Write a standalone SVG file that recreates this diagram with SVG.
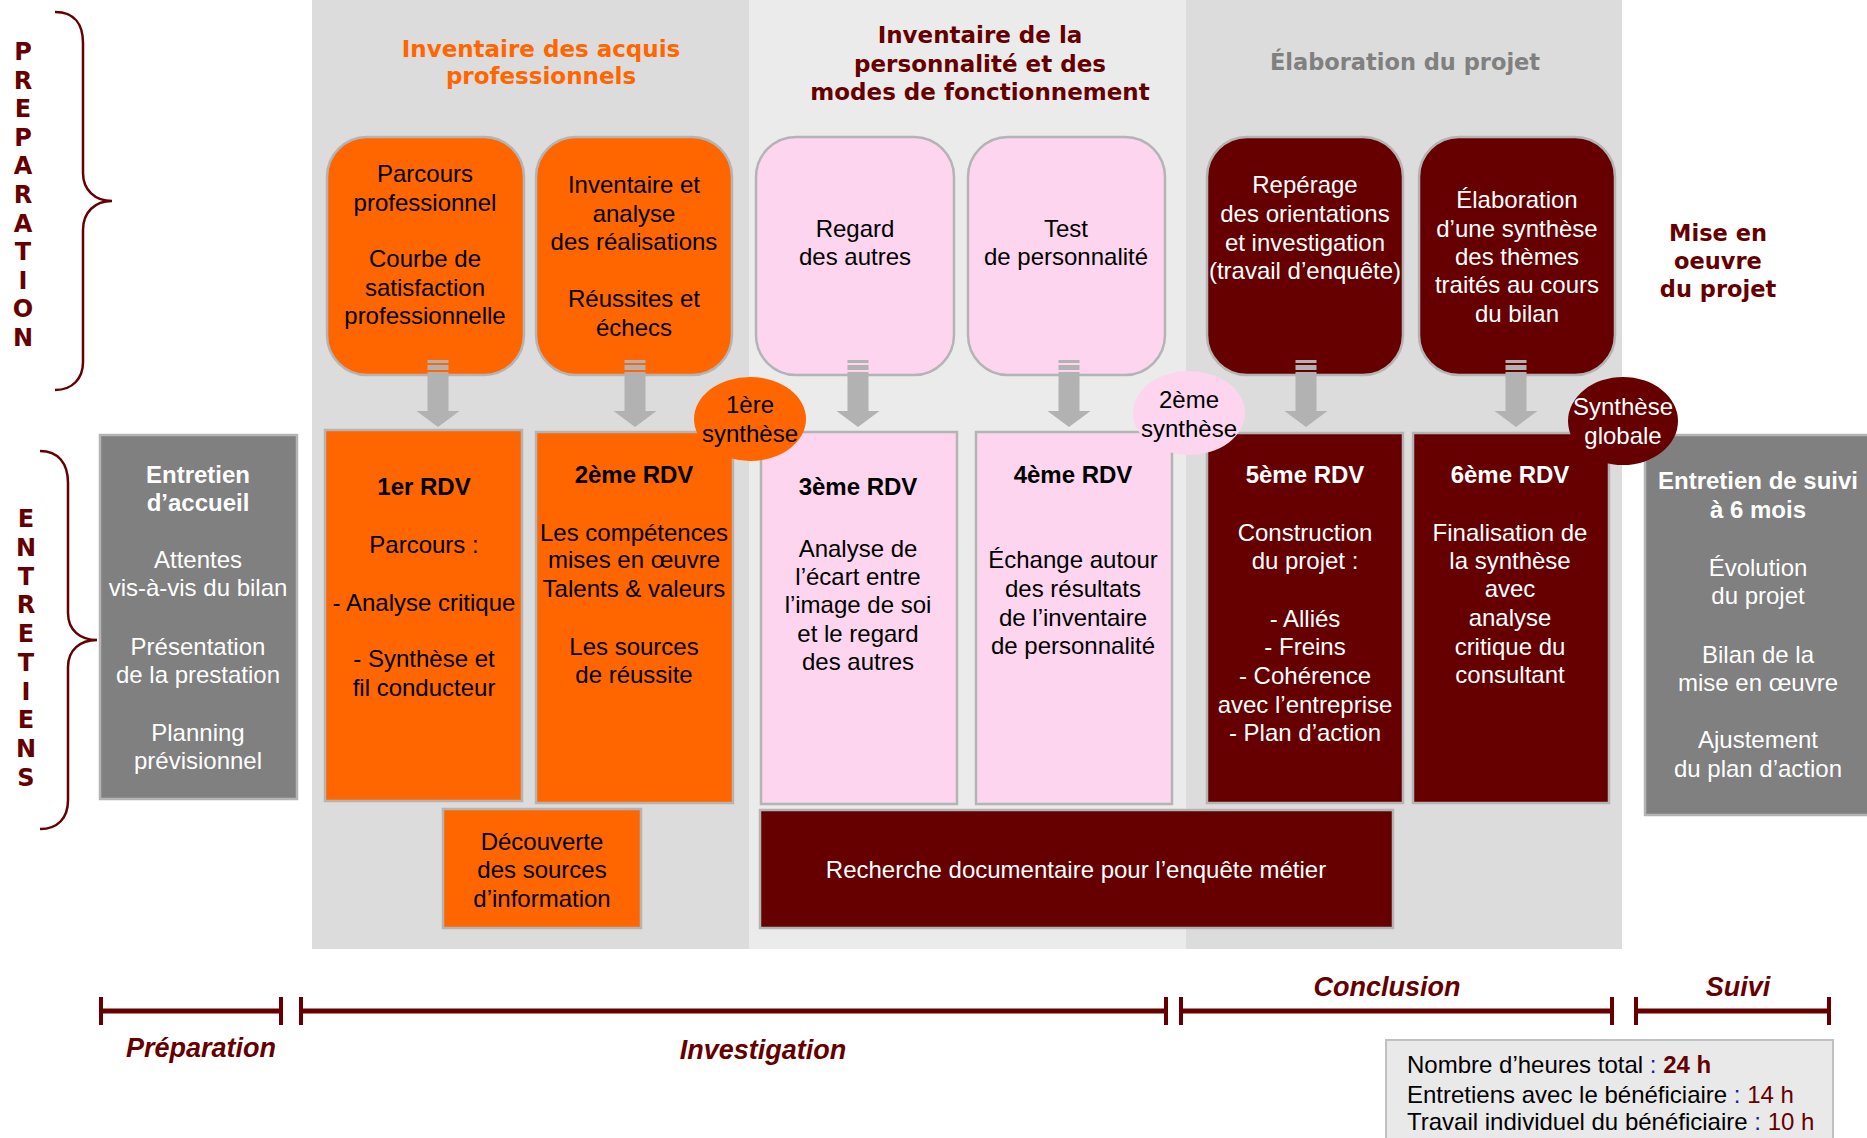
<svg xmlns="http://www.w3.org/2000/svg" width="1867" height="1138" viewBox="0 0 1867 1138">
<style>
.t{font-family:"Liberation Sans",Arial,sans-serif;font-size:24px;text-anchor:middle;fill:#000}
.b{font-weight:bold}
.w{fill:#fff}
.h{font-family:"DejaVu Sans",sans-serif;font-weight:bold;font-size:23px;text-anchor:middle}
.lt{font-size:24px}
.dr{fill:#660000}
.or{fill:#ff6600}
.box{stroke:#b4b4b4;stroke-width:2.5}
.tl{font-family:"Liberation Sans",Arial,sans-serif;font-weight:bold;font-style:italic;font-size:27px;text-anchor:middle;fill:#660000}
.brace{fill:none;stroke:#660000;stroke-width:2.5}
.arr{fill:#b2b2b2}
</style>
<defs>
<g id="arrow">
<rect class="arr" x="-10.5" y="360" width="21" height="3"/>
<rect class="arr" x="-10.5" y="365" width="21" height="5"/>
<path class="arr" d="M-10.5,372 H10.5 V411 H21.5 L0,427 L-21.5,411 H-10.5 Z"/>
</g>
</defs>
<rect width="1867" height="1138" fill="#fff"/>
<g id="bands">
<rect x="312" y="0" width="437" height="949" fill="#dcdcdc"/>
<rect x="749" y="0" width="437" height="949" fill="#ebebeb"/>
<rect x="1186" y="0" width="436" height="949" fill="#dcdcdc"/>
</g>
<g id="titles">
<text class="h" x="541" y="57" fill="#ff6600">Inventaire des acquis</text>
<text class="h" x="541" y="84" fill="#ff6600">professionnels</text>
<text class="h" x="980" y="43" fill="#660000">Inventaire de la</text>
<text class="h" x="980" y="72" fill="#660000">personnalité et des</text>
<text class="h" x="980" y="100" fill="#660000">modes de fonctionnement</text>
<text class="h" x="1405" y="70" fill="#808080" style="font-size:22.5px">Élaboration du projet</text>
<g id="mise-en-oeuvre">
<text class="h dr" x="1718" y="241" style="font-size:22.5px">Mise en</text>
<text class="h dr" x="1718" y="269" style="font-size:22.5px">oeuvre</text>
<text class="h dr" x="1718" y="297" style="font-size:22.5px">du projet</text>
</g>
</g>
<g id="preparation-label">
<path class="brace" d="M55,12 C75,12 83,25 83,43 L83,173 C83,190 95,201 112,201 C95,201 83,212 83,230 L83,362 C83,378 73,390 55,390"/>
<text class="h dr lt" x="23" y="60">P</text>
<text class="h dr lt" x="23" y="88.6">R</text>
<text class="h dr lt" x="23" y="117.2">E</text>
<text class="h dr lt" x="23" y="145.8">P</text>
<text class="h dr lt" x="23" y="174.4">A</text>
<text class="h dr lt" x="23" y="203">R</text>
<text class="h dr lt" x="23" y="231.6">A</text>
<text class="h dr lt" x="23" y="260.2">T</text>
<text class="h dr lt" x="23" y="288.8">I</text>
<text class="h dr lt" x="23" y="317.4">O</text>
<text class="h dr lt" x="23" y="346">N</text>
</g>
<g id="entretiens-label">
<path class="brace" d="M40,451 C58,451 68,463 68,483 L68,613 C68,630 80,640 97,640 C80,640 68,650 68,667 L68,800 C68,818 58,829 40,829"/>
<text class="h dr lt" x="26" y="527">E</text>
<text class="h dr lt" x="26" y="556">N</text>
<text class="h dr lt" x="26" y="585">T</text>
<text class="h dr lt" x="26" y="613">R</text>
<text class="h dr lt" x="26" y="642">E</text>
<text class="h dr lt" x="26" y="671">T</text>
<text class="h dr lt" x="26" y="700">I</text>
<text class="h dr lt" x="26" y="728">E</text>
<text class="h dr lt" x="26" y="757">N</text>
<text class="h dr lt" x="26" y="786">S</text>
</g>
<g id="entretien-accueil">
<rect class="box" x="100" y="435" width="197" height="364" fill="#808080"/>
<text class="t b w" x="198" y="483">Entretien</text>
<text class="t b w" x="198" y="511">d’accueil</text>
<text class="t w" x="198" y="568">Attentes</text>
<text class="t w" x="198" y="596">vis-à-vis du bilan</text>
<text class="t w" x="198" y="655">Présentation</text>
<text class="t w" x="198" y="683">de la prestation</text>
<text class="t w" x="198" y="741">Planning</text>
<text class="t w" x="198" y="769">prévisionnel</text>
</g>
<g id="parcours-pro">
<rect class="box" x="327" y="137" width="197" height="238" rx="40" fill="#ff6600"/>
<text class="t" x="425" y="182">Parcours</text>
<text class="t" x="425" y="211">professionnel</text>
<text class="t" x="425" y="267">Courbe de</text>
<text class="t" x="425" y="296">satisfaction</text>
<text class="t" x="425" y="324">professionnelle</text>
</g>
<g id="inventaire-realisations">
<rect class="box" x="536" y="137" width="196" height="238" rx="40" fill="#ff6600"/>
<text class="t" x="634" y="193">Inventaire et</text>
<text class="t" x="634" y="222">analyse</text>
<text class="t" x="634" y="250">des réalisations</text>
<text class="t" x="634" y="307">Réussites et</text>
<text class="t" x="634" y="336">échecs</text>
</g>
<g id="regard-autres">
<rect class="box" x="756" y="137" width="198" height="238" rx="40" fill="#fdd5ee"/>
<text class="t" x="855" y="237">Regard</text>
<text class="t" x="855" y="265">des autres</text>
</g>
<g id="test-personnalite">
<rect class="box" x="968" y="137" width="197" height="238" rx="40" fill="#fdd5ee"/>
<text class="t" x="1066" y="237">Test</text>
<text class="t" x="1066" y="265">de personnalité</text>
</g>
<g id="reperage">
<rect class="box" x="1207" y="137" width="196" height="238" rx="40" fill="#660000"/>
<text class="t w" x="1305" y="193">Repérage</text>
<text class="t w" x="1305" y="222">des orientations</text>
<text class="t w" x="1305" y="251">et investigation</text>
<text class="t w" x="1305" y="279">(travail d’enquête)</text>
</g>
<g id="elaboration-synthese">
<rect class="box" x="1419" y="137" width="196" height="238" rx="40" fill="#660000"/>
<text class="t w" x="1517" y="208">Élaboration</text>
<text class="t w" x="1517" y="237">d’une synthèse</text>
<text class="t w" x="1517" y="265">des thèmes</text>
<text class="t w" x="1517" y="293">traités au cours</text>
<text class="t w" x="1517" y="322">du bilan</text>
</g>
<g id="connectors">
<use href="#arrow" transform="translate(438,0)"/>
<use href="#arrow" transform="translate(635,0)"/>
<use href="#arrow" transform="translate(858,0)"/>
<use href="#arrow" transform="translate(1069,0)"/>
<use href="#arrow" transform="translate(1306,0)"/>
<use href="#arrow" transform="translate(1516,0)"/>
</g>
<g id="rdv1">
<rect class="box" x="325" y="430" width="197" height="371" fill="#ff6600"/>
<text class="t b" x="424" y="495">1er RDV</text>
<text class="t" x="424" y="553">Parcours :</text>
<text class="t" x="424" y="611">- Analyse critique</text>
<text class="t" x="424" y="667">- Synthèse et</text>
<text class="t" x="424" y="696">fil conducteur</text>
</g>
<g id="rdv2">
<rect class="box" x="536" y="432" width="197" height="371" fill="#ff6600"/>
<text class="t b" x="634" y="483">2ème RDV</text>
<text class="t" x="634" y="541">Les compétences</text>
<text class="t" x="634" y="568">mises en œuvre</text>
<text class="t" x="634" y="597">Talents &amp; valeurs</text>
<text class="t" x="634" y="655">Les sources</text>
<text class="t" x="634" y="683">de réussite</text>
</g>
<g id="decouverte">
<rect class="box" x="443" y="809" width="198" height="119" fill="#ff6600"/>
<text class="t" x="542" y="850">Découverte</text>
<text class="t" x="542" y="878">des sources</text>
<text class="t" x="542" y="907">d’information</text>
</g>
<g id="rdv3">
<rect class="box" x="761" y="432" width="196" height="372" fill="#fdd5ee"/>
<text class="t b" x="858" y="495">3ème RDV</text>
<text class="t" x="858" y="557">Analyse de</text>
<text class="t" x="858" y="585">l’écart entre</text>
<text class="t" x="858" y="613">l’image de soi</text>
<text class="t" x="858" y="642">et le regard</text>
<text class="t" x="858" y="670">des autres</text>
</g>
<g id="rdv4">
<rect class="box" x="976" y="432" width="196" height="372" fill="#fdd5ee"/>
<text class="t b" x="1073" y="483">4ème RDV</text>
<text class="t" x="1073" y="568">Échange autour</text>
<text class="t" x="1073" y="597">des résultats</text>
<text class="t" x="1073" y="626">de l’inventaire</text>
<text class="t" x="1073" y="654">de personnalité</text>
</g>
<g id="recherche">
<rect class="box" x="760" y="810" width="633" height="118" fill="#660000"/>
<text class="t w" x="1076" y="878">Recherche documentaire pour l’enquête métier</text>
</g>
<g id="rdv5">
<rect class="box" x="1207" y="433" width="196" height="370" fill="#660000"/>
<text class="t b w" x="1305" y="483">5ème RDV</text>
<text class="t w" x="1305" y="541">Construction</text>
<text class="t w" x="1305" y="569">du projet :</text>
<text class="t w" x="1305" y="627">- Alliés</text>
<text class="t w" x="1305" y="655">- Freins</text>
<text class="t w" x="1305" y="684">- Cohérence</text>
<text class="t w" x="1305" y="713">avec l’entreprise</text>
<text class="t w" x="1305" y="741">- Plan d’action</text>
</g>
<g id="rdv6">
<rect class="box" x="1413" y="433" width="196" height="370" fill="#660000"/>
<text class="t b w" x="1510" y="483">6ème RDV</text>
<text class="t w" x="1510" y="541">Finalisation de</text>
<text class="t w" x="1510" y="569">la synthèse</text>
<text class="t w" x="1510" y="597">avec</text>
<text class="t w" x="1510" y="626">analyse</text>
<text class="t w" x="1510" y="655">critique du</text>
<text class="t w" x="1510" y="683">consultant</text>
</g>
<g id="entretien-suivi">
<rect class="box" x="1645" y="435" width="240" height="380" fill="#808080"/>
<text class="t b w" x="1758" y="489">Entretien de suivi</text>
<text class="t b w" x="1758" y="518">à 6 mois</text>
<text class="t w" x="1758" y="576">Évolution</text>
<text class="t w" x="1758" y="604">du projet</text>
<text class="t w" x="1758" y="663">Bilan de la</text>
<text class="t w" x="1758" y="691">mise en œuvre</text>
<text class="t w" x="1758" y="748">Ajustement</text>
<text class="t w" x="1758" y="777">du plan d’action</text>
</g>
<g id="synthese1">
<ellipse cx="750" cy="419" rx="56" ry="42" fill="#ff6600"/>
<text class="t" x="750" y="413">1ère</text>
<text class="t" x="750" y="442">synthèse</text>
</g>
<g id="synthese2">
<ellipse cx="1189" cy="413" rx="56" ry="42" fill="#fdd5ee"/>
<text class="t" x="1189" y="408">2ème</text>
<text class="t" x="1189" y="437">synthèse</text>
</g>
<g id="synthese-globale">
<ellipse cx="1623" cy="421" rx="55" ry="44" fill="#660000"/>
<text class="t w" x="1623" y="415">Synthèse</text>
<text class="t w" x="1623" y="444">globale</text>
</g>
<g id="timeline" fill="#660000">
<rect x="100" y="1008.5" width="182" height="5"/>
<rect x="99" y="997" width="4" height="28"/>
<rect x="279" y="997" width="4" height="28"/>
<rect x="300" y="1008.5" width="867" height="5"/>
<rect x="299" y="997" width="4" height="28"/>
<rect x="1164" y="997" width="4" height="28"/>
<rect x="1180" y="1008.5" width="433" height="5"/>
<rect x="1179" y="997" width="4" height="28"/>
<rect x="1610" y="997" width="4" height="28"/>
<rect x="1635" y="1008.5" width="195" height="5"/>
<rect x="1634" y="997" width="4" height="28"/>
<rect x="1827" y="997" width="4" height="28"/>
<text class="tl" x="201" y="1057">Préparation</text>
<text class="tl" x="763" y="1059">Investigation</text>
<text class="tl" x="1387" y="996">Conclusion</text>
<text class="tl" x="1738" y="996">Suivi</text>
</g>
<g id="info-heures">
<rect x="1386" y="1040" width="447" height="110" fill="#e9e9e9" stroke="#c0c0c0" stroke-width="2"/>
<text class="t" x="1407" y="1073" style="text-anchor:start">Nombre d’heures total <tspan fill="#1a1aa6">:</tspan> <tspan fill="#660000" font-weight="bold">24 h</tspan></text>
<text class="t" x="1407" y="1103" style="text-anchor:start">Entretiens avec le bénéficiaire <tspan fill="#1a1aa6">:</tspan> <tspan fill="#660000">14 h</tspan></text>
<text class="t" x="1407" y="1130" style="text-anchor:start">Travail individuel du bénéficiaire <tspan fill="#1a1aa6">:</tspan> <tspan fill="#660000">10 h</tspan></text>
</g>
</svg>
